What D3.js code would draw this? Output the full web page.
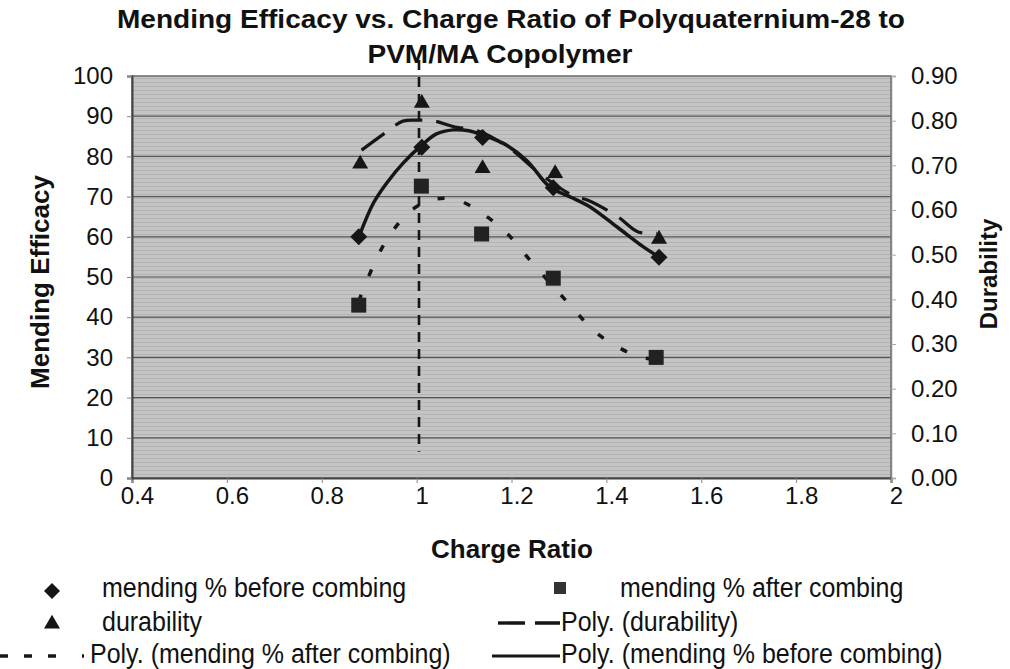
<!DOCTYPE html>
<html>
<head>
<meta charset="utf-8">
<script src="https://cdn.jsdelivr.net/npm/d3@7"></script>
<style>
  html, body { margin: 0; padding: 0; background: #fff; }
  svg { display: block; }
  text { font-family: "Liberation Sans", Arial, sans-serif; fill: #111; }
</style>
</head>
<body>
<svg id="chart" width="1010" height="669"></svg>
<script>
// ---------- data ----------
const xTickValues = [0.4, 0.6, 0.8, 1.0, 1.2, 1.4, 1.6, 1.8, 2.0];
const xTickLabels = ["0.4", "0.6", "0.8", "1", "1.2", "1.4", "1.6", "1.8", "2"];
const leftTickValues = [0, 10, 20, 30, 40, 50, 60, 70, 80, 90, 100];
const rightTickValues = [0, 0.1, 0.2, 0.3, 0.4, 0.5, 0.6, 0.7, 0.8, 0.9];

const beforeRatio = [0.878, 1.011, 1.139, 1.288, 1.511];
const mendingBefore = [60.0, 82.3, 84.7, 72.2, 54.9];

const afterRatio = [0.878, 1.010, 1.137, 1.288, 1.505];
const mendingAfter = [43.0, 72.6, 60.7, 49.7, 30.0];

const durabilityRatio = [0.881, 1.011, 1.139, 1.292, 1.511];
const durability = [0.703, 0.839, 0.693, 0.682, 0.535];

// trendlines
const polyBeforeX = [0.880, 0.909, 0.937, 0.972, 1.011, 1.042, 1.077, 1.110, 1.139, 1.182, 1.232, 1.280, 1.330, 1.365, 1.422, 1.478, 1.511];
const polyBeforeY = [60.5, 68.4, 73.4, 78.4, 82.8, 85.6, 86.6, 86.4, 85.3, 83.3, 79.0, 72.5, 69.6, 67.5, 62.5, 57.5, 55.0];

const polyAfterX = [0.878, 0.908, 0.937, 0.982, 1.032, 1.084, 1.137, 1.190, 1.239, 1.285, 1.327, 1.372, 1.422, 1.474, 1.505];
const polyAfterY = [44.0, 52.6, 59.2, 65.9, 69.2, 69.2, 65.9, 60.9, 54.2, 48.0, 42.6, 36.8, 32.7, 30.0, 29.5];

const polyDurX = [0.884, 0.937, 0.971, 1.005, 1.039, 1.077, 1.134, 1.200, 1.250, 1.298, 1.334, 1.361, 1.424, 1.467, 1.507];
const polyDurY = [0.734, 0.775, 0.799, 0.801, 0.799, 0.787, 0.775, 0.735, 0.690, 0.652, 0.630, 0.622, 0.585, 0.551, 0.548];

const markerLineX = [1.005, 1.005];
const markerLineY = [104.0, 6.5];

// ---------- layout ----------
const svg = d3.select("#chart");
const L = 132, R = 891, T = 76, B = 478;

const x = d3.scaleLinear().domain([0.4, 2.0]).range([L, R]);
const yL = d3.scaleLinear().domain([0, 100]).range([B, T]);
const yR = d3.scaleLinear().domain([0, 0.9]).range([B, T]);

// plot background with scanned stripe texture
const defs = svg.append("defs");
const pat = defs.append("pattern").attr("id", "stripes")
  .attr("patternUnits", "userSpaceOnUse").attr("width", 6).attr("height", 4);
pat.append("rect").attr("width", 6).attr("height", 4).attr("fill", "#c4c4c4");
pat.append("rect").attr("y", 2).attr("width", 6).attr("height", 1).attr("fill", "#b4b4b4");

svg.append("rect").attr("x", L).attr("y", T).attr("width", R - L).attr("height", B - T)
  .attr("fill", "url(#stripes)");

// gridlines
svg.append("g").selectAll("line").data(leftTickValues.filter(v => v > 0 && v < 100)).join("line")
  .attr("x1", L).attr("x2", R).attr("y1", d => yL(d)).attr("y2", d => yL(d))
  .attr("stroke", "#555").attr("stroke-width", 1.2);

// plot border
svg.append("rect").attr("x", L).attr("y", T).attr("width", R - L).attr("height", B - T)
  .attr("fill", "none").attr("stroke", "#6a6a6a").attr("stroke-width", 1.5);

// axes
const fontTick = 24;
const ff = "Liberation Sans, Arial, sans-serif";
const xAxis = d3.axisBottom(x).tickValues(xTickValues).tickFormat((d, i) => xTickLabels[i]).tickSizeOuter(0).tickSize(5).tickPadding(4);
const gx = svg.append("g").attr("transform", `translate(0,${B})`).call(xAxis);
gx.select(".domain").attr("stroke", "#444").attr("stroke-width", 2);
gx.selectAll(".tick line").attr("stroke", "#888");
gx.selectAll("text").attr("font-size", fontTick).attr("font-family", ff).attr("fill", "#111").attr("dx", 5);

const yAxisL = d3.axisLeft(yL).tickValues(leftTickValues).tickFormat(d3.format("d")).tickSizeOuter(0).tickSize(5).tickPadding(14);
const gyl = svg.append("g").attr("transform", `translate(${L},0)`).call(yAxisL);
gyl.select(".domain").attr("stroke", "#444").attr("stroke-width", 2);
gyl.selectAll(".tick line").attr("stroke", "#888");
gyl.selectAll("text").attr("font-size", fontTick).attr("font-family", ff).attr("fill", "#111");

const yAxisR = d3.axisRight(yR).tickValues(rightTickValues).tickFormat(d3.format(".2f")).tickSizeOuter(0).tickSize(5).tickPadding(15);
const gyr = svg.append("g").attr("transform", `translate(${R},0)`).call(yAxisR);
gyr.select(".domain").attr("stroke", "#888").attr("stroke-width", 1.5);
gyr.selectAll(".tick line").attr("stroke", "#aaa");
gyr.selectAll("text").attr("font-size", fontTick).attr("font-family", ff).attr("fill", "#111");

// ---------- trendlines ----------
const ink = "#161616";
const lineL = d3.line().x(d => x(d[0])).y(d => yL(d[1])).curve(d3.curveCatmullRom);
const lineR = d3.line().x(d => x(d[0])).y(d => yR(d[1])).curve(d3.curveCatmullRom);

svg.append("path").datum(polyAfterX.map((v, i) => [v, polyAfterY[i]]))
  .attr("d", lineL).attr("fill", "none").attr("stroke", ink).attr("stroke-width", 3.5)
  .attr("stroke-dasharray", "7,20");

svg.append("path").datum(polyDurX.map((v, i) => [v, polyDurY[i]]))
  .attr("d", lineR).attr("fill", "none").attr("stroke", ink).attr("stroke-width", 3.2)
  .attr("stroke-dasharray", "28,14");

svg.append("path").datum(polyBeforeX.map((v, i) => [v, polyBeforeY[i]]))
  .attr("d", lineL).attr("fill", "none").attr("stroke", ink).attr("stroke-width", 3.5);

svg.append("path").datum(markerLineX.map((v, i) => [v, markerLineY[i]]))
  .attr("d", d3.line().x(d => x(d[0])).y(d => yL(d[1])))
  .attr("fill", "none").attr("stroke", ink).attr("stroke-width", 2.6)
  .attr("stroke-dasharray", "10,7");

// ---------- markers ----------
const diamond = { draw(ctx, size) { const r = Math.sqrt(size / 2); ctx.moveTo(0, -r); ctx.lineTo(r, 0); ctx.lineTo(0, r); ctx.lineTo(-r, 0); ctx.closePath(); } };
const diamondPath = d3.symbol().type(diamond).size(2 * 8.5 * 8.5);
const squarePath = d3.symbol().type(d3.symbolSquare).size(15 * 15);
const triPath = d3.symbol().type(d3.symbolTriangle).size(Math.sqrt(3) / 4 * 16 * 16);

svg.append("g").selectAll("path").data(beforeRatio.map((v, i) => [v, mendingBefore[i]])).join("path")
  .attr("d", diamondPath).attr("transform", d => `translate(${x(d[0])},${yL(d[1])})`).attr("fill", ink);

svg.append("g").selectAll("path").data(afterRatio.map((v, i) => [v, mendingAfter[i]])).join("path")
  .attr("d", squarePath).attr("transform", d => `translate(${x(d[0])},${yL(d[1])})`).attr("fill", "#222");

svg.append("g").selectAll("path").data(durabilityRatio.map((v, i) => [v, durability[i]])).join("path")
  .attr("d", triPath).attr("transform", d => `translate(${x(d[0])},${yR(d[1])})`).attr("fill", ink);

// ---------- titles ----------
svg.append("text").attr("x", 511).attr("y", 28).attr("text-anchor", "middle")
  .attr("font-size", 25).attr("font-weight", "bold")
  .attr("textLength", 788).attr("lengthAdjust", "spacingAndGlyphs")
  .text("Mending Efficacy vs. Charge Ratio of Polyquaternium-28 to");
svg.append("text").attr("x", 500).attr("y", 63).attr("text-anchor", "middle")
  .attr("font-size", 25).attr("font-weight", "bold")
  .attr("textLength", 265).attr("lengthAdjust", "spacingAndGlyphs")
  .text("PVM/MA Copolymer");

svg.append("text").attr("x", 512).attr("y", 558).attr("text-anchor", "middle")
  .attr("font-size", 26).attr("font-weight", "bold").text("Charge Ratio");

svg.append("text").attr("transform", "translate(49,282) rotate(-90)").attr("text-anchor", "middle")
  .attr("font-size", 26).attr("font-weight", "bold").text("Mending Efficacy");

svg.append("text").attr("transform", "translate(997,274) rotate(-90)").attr("text-anchor", "middle")
  .attr("font-size", 24).attr("font-weight", "bold").text("Durability");

// ---------- legend ----------
const lg = svg.append("g");
const legFont = 25;
function legText(xp, yp, str) {
  lg.append("text").attr("transform", `translate(${xp},${yp}) scale(1,1.12)`)
    .attr("font-size", legFont).text(str);
}
lg.append("path").attr("d", d3.symbol().type(diamond).size(2 * 8 * 8)).attr("transform", "translate(52,591)").attr("fill", ink);
legText(102, 597, "mending % before combing");
lg.append("path").attr("d", d3.symbol().type(d3.symbolSquare).size(12 * 12)).attr("transform", "translate(560,588)").attr("fill", "#333");
legText(620, 597, "mending % after combing");

lg.append("path").attr("d", d3.symbol().type(d3.symbolTriangle).size(Math.sqrt(3) / 4 * 16 * 16)).attr("transform", "translate(52,624)").attr("fill", ink);
legText(102, 631, "durability");
lg.append("line").attr("x1", 498).attr("x2", 560).attr("y1", 623).attr("y2", 623)
  .attr("stroke", ink).attr("stroke-width", 3.4).attr("stroke-dasharray", "27,10");
legText(561, 631, "Poly. (durability)");

lg.append("line").attr("x1", 0).attr("x2", 86).attr("y1", 656).attr("y2", 656)
  .attr("stroke", ink).attr("stroke-width", 3.6).attr("stroke-dasharray", "8,16,8,16,8,26,2,50");
legText(90, 663, "Poly. (mending % after combing)");
lg.append("line").attr("x1", 492).attr("x2", 560).attr("y1", 656).attr("y2", 656)
  .attr("stroke", ink).attr("stroke-width", 3.2);
legText(561, 663, "Poly. (mending % before combing)");
</script>
</body>
</html>
